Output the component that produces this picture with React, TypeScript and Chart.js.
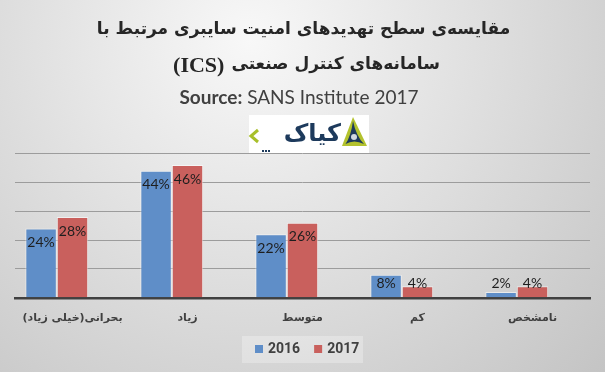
import { useEffect, useRef } from "react";
import { Chart, registerables } from "chart.js";

Chart.register(...registerables);

const categories = ["بحرانی(خیلی زیاد)", "زیاد", "متوسط", "کم", "نامشخص"];
const values2016 = [24, 44, 22, 8, 2];
const values2017 = [28, 46, 26, 4, 4];
const seriesNames = ["2016", "2017"];
const seriesColors = ["#5f8ec8", "#c9605d"];
const yTicks = [0, 10, 20, 30, 40, 50];
const titleLine1 = "مقایسه‌ی سطح تهدیدهای امنیت سایبری مرتبط با";
const titleLine2Fa = "سامانه‌های کنترل صنعتی";
const titleLine2En = "(ICS)";
const sourceBold = "Source:";
const sourceRest = " SANS Institute 2017";
const logoText = "کیاک";

const W = 605;
const H = 372;

const bgPlugin = {
  id: "bgPlugin",
  beforeDraw(chart: any) {
    const { ctx } = chart;
    const g = ctx.createRadialGradient(250, 40, 0, 250, 40, 560);
    g.addColorStop(0, "#f8f8f8");
    g.addColorStop(1, "#bcbcbc");
    ctx.save();
    ctx.fillStyle = g;
    ctx.fillRect(0, 0, W, H);
    ctx.restore();
  },
};

const decorPlugin = {
  id: "decorPlugin",
  afterDatasetsDraw(chart: any) {
    const { ctx } = chart;
    ctx.save();
    ctx.font = '14px Lato, "DejaVu Sans", sans-serif';
    ctx.fillStyle = "#1e1e1e";
    ctx.textAlign = "center";
    ctx.textBaseline = "middle";
    [0, 1].forEach((di) => {
      const meta = chart.getDatasetMeta(di);
      const vals = di === 0 ? values2016 : values2017;
      meta.data.forEach((bar: any, i: number) => {
        const y = Math.min(bar.y + 14, bar.base - 13.5);
        ctx.fillText(vals[i] + "%", bar.x, y);
      });
    });
    ctx.restore();
  },
  afterDraw(chart: any) {
    const { ctx } = chart;
    const cx = W / 2;
    const faTitleFont = 'bold 17px "DejaVu Sans", sans-serif';
    ctx.save();
    // Title line 1
    ctx.fillStyle = "#262626";
    ctx.textBaseline = "middle";
    ctx.direction = "rtl";
    ctx.textAlign = "center";
    ctx.font = faTitleFont;
    ctx.fillText(titleLine1, cx + 1, 30);
    // Title line 2
    ctx.font = faTitleFont;
    const w1 = ctx.measureText(titleLine2Fa).width;
    ctx.font = 'bold 22px "Liberation Serif", serif';
    const w2 = ctx.measureText(titleLine2En).width;
    const gap = 7;
    const total = w1 + gap + w2;
    const x0 = cx + 4 - total / 2;
    ctx.direction = "ltr";
    ctx.textAlign = "left";
    ctx.fillText(titleLine2En, x0, 66);
    ctx.font = faTitleFont;
    ctx.direction = "rtl";
    ctx.textAlign = "right";
    ctx.fillText(titleLine2Fa, x0 + total, 65);
    // Source line
    ctx.direction = "ltr";
    ctx.fillStyle = "#404040";
    ctx.font = 'bold 19px Lato, sans-serif';
    const sb = ctx.measureText(sourceBold).width;
    ctx.font = '19px Lato, sans-serif';
    const sr = ctx.measureText(sourceRest).width;
    const sx = 299 - (sb + sr) / 2;
    ctx.textAlign = "left";
    ctx.font = 'bold 19px Lato, sans-serif';
    ctx.fillText(sourceBold, sx, 98);
    ctx.font = '19px Lato, sans-serif';
    ctx.fillText(sourceRest, sx + sb, 98);

    // Logo
    ctx.fillStyle = "#ffffff";
    ctx.fillRect(249, 115, 120, 38);
    ctx.beginPath();
    ctx.moveTo(353, 117);
    ctx.lineTo(342, 146);
    ctx.lineTo(367, 146);
    ctx.closePath();
    ctx.fillStyle = "#b3c22e";
    ctx.fill();
    ctx.beginPath();
    ctx.moveTo(353, 121);
    ctx.quadraticCurveTo(351, 136, 345.5, 144);
    ctx.quadraticCurveTo(354, 139, 364, 144);
    ctx.quadraticCurveTo(356, 136, 353, 121);
    ctx.fillStyle = "#1d3a5c";
    ctx.fill();
    ctx.beginPath();
    ctx.arc(354, 137, 3, 0, Math.PI * 2);
    ctx.fillStyle = "#cfd8e0";
    ctx.fill();
    ctx.fillStyle = "#1d3a5c";
    ctx.font = 'bold 24px "DejaVu Sans", sans-serif';
    ctx.direction = "rtl";
    ctx.textAlign = "right";
    ctx.textBaseline = "alphabetic";
    ctx.fillText(logoText, 341, 141);
    ctx.beginPath();
    ctx.moveTo(258, 130);
    ctx.lineTo(251, 136);
    ctx.lineTo(258, 142);
    ctx.lineWidth = 3;
    ctx.strokeStyle = "#a8bf2a";
    ctx.stroke();
    ctx.fillStyle = "#1d3a5c";
    [262, 265, 268].forEach((dx) => ctx.fillRect(dx, 150, 2, 2));

    // Legend
    ctx.direction = "ltr";
    ctx.fillStyle = "rgba(255,255,255,0.28)";
    ctx.fillRect(242, 336, 121, 27);
    ctx.font = 'bold 14px Roboto, sans-serif';
    ctx.textBaseline = "middle";
    ctx.textAlign = "left";
    let lx = 255;
    seriesNames.forEach((name, i) => {
      ctx.fillStyle = seriesColors[i];
      ctx.fillRect(lx, 345, 8, 8);
      ctx.fillStyle = "#404040";
      ctx.fillText(name, lx + 13, 349.5);
      lx += 13 + ctx.measureText(name).width + 14;
    });
    ctx.restore();
  },
};

export default function App() {
  const ref = useRef<HTMLCanvasElement | null>(null);
  useEffect(() => {
    if (!ref.current) return;
    const chart = new Chart(ref.current, {
      type: "bar",
      data: {
        labels: categories,
        datasets: [
          {
            label: seriesNames[0],
            data: values2016,
            backgroundColor: seriesColors[0],
            borderColor: "rgba(255,255,255,0.55)",
            borderWidth: 1,
          },
          {
            label: seriesNames[1],
            data: values2017,
            backgroundColor: seriesColors[1],
            borderColor: "rgba(255,255,255,0.55)",
            borderWidth: 1,
          },
          {
            label: "",
            data: categories.map(() => null),
            backgroundColor: "rgba(0,0,0,0)",
          },
        ],
      },
      options: {
        responsive: false,
        animation: false,
        devicePixelRatio: 1,
        layout: { padding: { left: 15, right: 15, top: 153.5, bottom: 33 } },
        datasets: { bar: { categoryPercentage: 0.82, barPercentage: 1 } },
        plugins: {
          legend: { display: false },
          title: { display: false },
          tooltip: { enabled: false },
        },
        scales: {
          x: {
            grid: { display: false, drawTicks: false },
            border: { display: true, color: "#404040", width: 2.5 },
            ticks: {
              padding: 14,
              maxRotation: 0,
              minRotation: 0,
              autoSkip: false,
              color: "#404040",
              font: { family: '"DejaVu Sans", sans-serif', size: 11, weight: "bold" },
            },
          },
          y: {
            min: 0,
            max: 50,
            afterBuildTicks: (axis: any) => {
              axis.ticks = yTicks.map((v) => ({ value: v }));
            },
            grid: { color: "#9c9c9c", lineWidth: 1, drawTicks: false },
            border: { display: false },
            ticks: { display: false },
          },
        },
      },
      plugins: [bgPlugin, decorPlugin],
    });
    return () => chart.destroy();
  }, []);
  return (
    <div style={{ position: "absolute", left: 0, top: 0, width: W, height: H }}>
      <canvas ref={ref} width={W} height={H} style={{ display: "block" }} />
    </div>
  );
}
